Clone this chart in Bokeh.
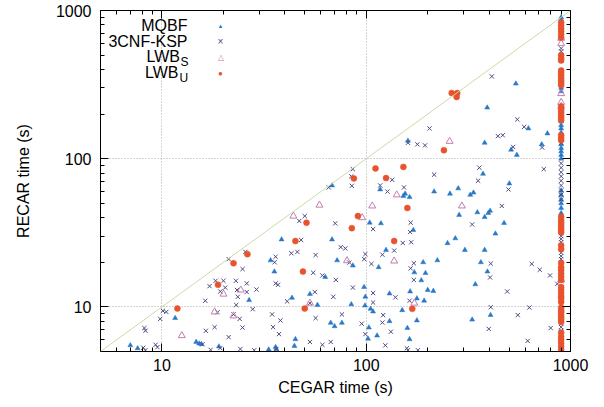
from bokeh.plotting import figure
from bokeh.models import (ColumnDataSource, FixedTicker, LogAxis, Slope, Label,
                          PrintfTickFormatter, CustomJSTickFormatter)
from bokeh.embed import file_html
from bokeh.resources import INLINE

# ---------------- data (seconds) ----------------
timeout = 900

mqbf_x = [68, 104, 38.5, 68, 34, 72, 86, 115, 35.5, 63, 26.7, 43.3, 53, 57.7, 84.5, 97.6, 99, 98.6,
          540, 391, 622, 771, 160, 380, 512, 723, 546, 373, 117, 155, 152, 163, 215, 282, 257, 323, 335,
          502, 285, 350, 380, 396, 404, 118, 170, 473, 429, 273,
          125, 190, 223, 172, 195, 186, 250, 304, 380, 364, 392, 342,
          130, 164, 200, 213, 177, 192, 105, 108, 150, 406, 67, 76, 70, 130, 177, 330, 159, 103, 102, 113, 163,
          11.6, 45, 44.5, 7.0, 7.6, 14.7, 15.2, 15.6, 19, 33.3, 36, 36.3]
mqbf_y = [66, 37, 28.5, 28.5, 20.6, 20.6, 19, 18.5, 17.3, 15.9, 11.1, 11.5, 12.2, 10.3, 10.4, 13.6, 11.7, 10.2,
          321, 221, 160, 148, 132, 128, 115, 125, 106, 79, 62, 58, 56, 55, 60, 63, 58, 57, 59,
          68, 41.7, 43.4, 40.4, 43, 44.5, 36.6, 33, 36.8, 31.2, 29,
          24.2, 20, 20.6, 17.1, 16.9, 15.1, 26.9, 24.2, 24.2, 20, 17.3, 14.2,
          12.3, 12.7, 13, 12.8, 11.4, 11, 9.7, 9.3, 9.5, 8.8, 7.8, 7.8, 7.4, 8.0, 8.1, 8.2, 7.2, 7.25, 6.1, 6.4, 6.05,
          8.4, 6.05, 5.45, 5.5, 5.25, 5.8, 5.65, 5.6, 5.4, 5.15, 5.35, 5.2]
mqbf_timeout_y = [900, 870, 300, 285, 178, 168, 160, 150, 125, 118, 112, 106, 100,
                  61, 57, 53, 50, 46.5, 43, 35.7, 33]

cnf_x = [86, 84.5, 65.5, 85, 50, 47, 70.5, 108, 48, 75, 79, 25.6, 21.2, 43, 46, 56.5, 36, 35.6, 99, 97.7,
         82.6, 106, 24.8, 55, 61, 71, 18.3, 20, 23, 17.1, 20.4, 19.3, 26, 36, 37, 23.3, 26, 29, 23.5, 16.3,
         23.1, 27.8, 41, 56, 53, 69, 86, 108, 108,
         412, 549, 593, 204, 441, 466, 160, 178, 194, 524, 726, 358, 740, 215, 134, 353, 117, 153, 127, 497,
         461, 165, 164, 330,
         151, 166, 137, 120, 171, 165, 171, 407, 404, 646, 707, 794, 862,
         139, 490, 163, 407, 629, 552, 76, 121, 56.5, 95, 120, 99, 132, 398, 800, 53, 61, 67, 124, 158, 160,
         179, 617,
         10.1, 10.5, 18.7, 22.4, 24, 34.6, 38, 9.8, 8.2, 8.3, 16.4, 18.1, 24.8, 35, 37.4, 21.2, 15.8, 19.3,
         17.3, 24.2, 28.3, 36.3, 8.1, 8.3, 9.3, 9.5]
cnf_y = [85, 76, 64, 65.6, 41, 38, 36.6, 33.5, 28.3, 25.3, 24.8, 23.5, 21, 23, 23.5, 22.4, 21.8, 20, 22.7, 21,
         19.9, 19.5, 18, 17, 16.3, 15.2, 15, 15, 15, 13.8, 13.5, 12.7, 14.4, 14.4, 14.1, 13, 12.6, 13.1, 11.7, 11,
         10.3, 9.65, 10.9, 12.6, 10.6, 11.7, 13.5, 12.4, 10.7,
         359, 184, 164, 160, 142, 144, 128, 125, 123, 120, 119, 87, 85, 78, 72, 71, 66, 64, 60, 62,
         48, 37, 32, 36,
         27, 27.3, 24, 22.5, 19.7, 18.2, 15.2, 19.6, 15.8, 19.5, 17.8, 16.3, 14.3,
         11.6, 12.7, 11, 9.95, 9.9, 8.8, 8.9, 8.8, 8.4, 7.7, 7.84, 6.55, 6.8, 7.1, 7.2, 5.8, 5.55, 5.8, 5.5, 5.25, 5.1,
         5.1, 5.9,
         9.4, 9.25, 9.2, 8.9, 8.3, 8.9, 8.1, 8.3, 7.2, 6.9, 6.9, 7.3, 7.25, 7.3, 6.55, 6.25, 5.6, 5.27,
         5.13, 5.2, 5.1, 5.2, 5.3, 5.1, 5.55, 5.35]
cnf_timeout_y = [555, 530, 485, 460, 144, 136, 128, 93, 87, 81, 76, 71, 66, 61, 57, 53,
                 31.5, 30, 28.7, 27.3, 26.2, 23.2, 22, 21, 19.8, 17, 16, 14.9, 13.6, 10.3, 10,
                 7.7, 7.3, 6.9, 6.7]

lwbs_x = [59, 107, 44, 95.5, 80.5, 20, 24.3, 256, 141, 294, 137, 53, 172, 18.1, 22.4, 12.5]
lwbs_y = [48.6, 48, 41, 40, 20.5, 12.2, 13, 131, 57, 48, 20.4, 10.6, 10.6, 9.25, 8.7, 6.4]
lwbs_timeout_y = [650, 600, 275, 240, 225, 15.2]

lwbu_x = [111, 87, 91, 51, 85, 45, 26.2, 22.4, 49, 18.8, 11.9, 50, 262, 279, 277, 240, 152, 125, 159, 137, 168]
lwbu_y = [86, 73.6, 41, 37, 34, 27.8, 22.7, 19.7, 17.3, 14.1, 9.75, 9.75, 277, 277, 261, 114, 88, 74, 46.5, 27.8, 9.7]
lwbu_timeout_y = [830, 793, 757, 723, 690, 658, 498, 475, 460, 394, 380, 365, 350, 338, 325, 313,
                  225, 212, 204, 196, 189, 182, 144, 138, 133, 40.5, 38.5, 37, 35.7, 34.3, 33, 31.8,
                  26, 24.5, 19.8, 18.5, 17.7, 16.8, 16, 15.2, 13.6, 13, 12.4, 11.8, 11.4, 10.8,
                  9.85, 9.5, 9.2, 8.8, 8.5, 8.2, 7.9, 6.7, 6.3, 6, 5.7, 5.4, 5.15]

series_names = ["MQBF", "3CNF-KSP", "LWB", "LWB"]
series_subs = ["", "", "S", "U"]
major_ticks = [10, 100, 1000]
minor_ticks = [6, 7, 8, 9, 20, 30, 40, 50, 60, 70, 80, 90, 200, 300, 400, 500, 600, 700, 800, 900]
axis_min, axis_max = 5, 1000

# ---------------- styles ----------------
C_MQBF = "#2878c8"
C_CNF = "#4d4a80"
C_LWBS = "#c27fb0"
C_LWBU = "#e8532d"
FONT = "Liberation Sans"
LABEL_SIZE = "16px"
SUB_SIZE = "12px"

p = figure(width=604, height=407, x_axis_type="log", y_axis_type="log",
           x_range=(axis_min, axis_max), y_range=(axis_min, axis_max),
           output_backend="svg", toolbar_location=None,
           min_border_left=100, min_border_right=34, min_border_top=10, min_border_bottom=56)
p.background_fill_color = "white"
p.border_fill_color = "white"
p.outline_line_color = "black"
p.outline_line_width = 1

def style_axis(ax, show_labels=True):
    ax.ticker = FixedTicker(ticks=major_ticks, minor_ticks=minor_ticks)
    ax.axis_line_color = "black"
    ax.major_tick_line_color = "black"
    ax.minor_tick_line_color = "black"
    ax.major_tick_in = 8
    ax.major_tick_out = 0
    ax.minor_tick_in = 4
    ax.minor_tick_out = 0
    if show_labels:
        ax.formatter = PrintfTickFormatter(format="%d")
        ax.major_label_text_font = FONT
        ax.major_label_text_font_size = "16px"
        ax.major_label_text_color = "black"
        ax.axis_label_text_font = FONT
        ax.axis_label_text_font_size = LABEL_SIZE
        ax.axis_label_text_font_style = "normal"
        ax.axis_label_text_color = "black"
    else:
        ax.formatter = CustomJSTickFormatter(code="return ''")
        ax.major_label_text_font_size = "1px"
        ax.major_label_standoff = 0

style_axis(p.xaxis[0])
style_axis(p.yaxis[0])
p.xaxis[0].axis_label = "CEGAR time (s)"
p.yaxis[0].axis_label = "RECAR time (s)"
p.xaxis[0].major_label_standoff = 7
p.xaxis[0].axis_label_standoff = 5
p.yaxis[0].major_label_standoff = 9
p.yaxis[0].axis_label_standoff = 21

top_axis = LogAxis()
right_axis = LogAxis()
style_axis(top_axis, False)
style_axis(right_axis, False)
p.add_layout(top_axis, "above")
p.add_layout(right_axis, "right")

for g in (p.xgrid[0], p.ygrid[0]):
    g.ticker = FixedTicker(ticks=[10, 100])
    g.grid_line_color = "#a8a8a8"
    g.grid_line_dash = "1 2"
    g.grid_line_width = 1

# diagonal y = x
p.add_layout(Slope(gradient=1, y_intercept=0, line_color="#c8dca8", line_width=1))

src_mqbf = ColumnDataSource(dict(x=mqbf_x + [timeout] * len(mqbf_timeout_y), y=mqbf_y + mqbf_timeout_y))
src_cnf = ColumnDataSource(dict(x=cnf_x + [timeout] * len(cnf_timeout_y), y=cnf_y + cnf_timeout_y))
src_lwbs = ColumnDataSource(dict(x=lwbs_x + [timeout] * len(lwbs_timeout_y), y=lwbs_y + lwbs_timeout_y))
src_lwbu = ColumnDataSource(dict(x=lwbu_x + [timeout] * len(lwbu_timeout_y), y=lwbu_y + lwbu_timeout_y))

p.scatter("x", "y", source=src_mqbf, marker="triangle", size=5, fill_color=C_MQBF, line_color=C_MQBF, line_width=0.5)
p.scatter("x", "y", source=src_cnf, marker="x", size=6, line_color=C_CNF, line_width=1)
p.scatter("x", "y", source=src_lwbs, marker="triangle", size=7, fill_color=None, line_color=C_LWBS, line_width=1)
p.scatter("x", "y", source=src_lwbu, marker="circle", size=6, fill_color=C_LWBU, line_color=C_LWBU, line_width=0.5)

# ---------------- manual key (gnuplot style: text then symbol) ----------------
def txt(x, y, t, size=LABEL_SIZE, align="right", color="black", baseline="middle"):
    p.add_layout(Label(x=x, y=y, x_units="screen", y_units="screen", text=t,
                       text_font=FONT, text_font_size=size, text_align=align,
                       text_baseline=baseline, text_color=color))

txt(87, 326, series_names[0])
txt(87, 310, series_names[1])
txt(79.5, 295, series_names[2])
txt(80, 290, series_subs[2], size=SUB_SIZE, align="left")
txt(78, 279, series_names[3])
txt(79, 274, series_subs[3], size=SUB_SIZE, align="left")
txt(120, 326, "\u25B2", size="6px", align="center", color=C_MQBF)
txt(120, 310, "\u00D7", size="10px", align="center", color=C_CNF)
txt(120, 294, "\u25B3", size="8px", align="center", color=C_LWBS)
txt(120, 278, "\u25CF", size="8px", align="center", color=C_LWBU)

open("out.html", "w").write(file_html(p, INLINE))
